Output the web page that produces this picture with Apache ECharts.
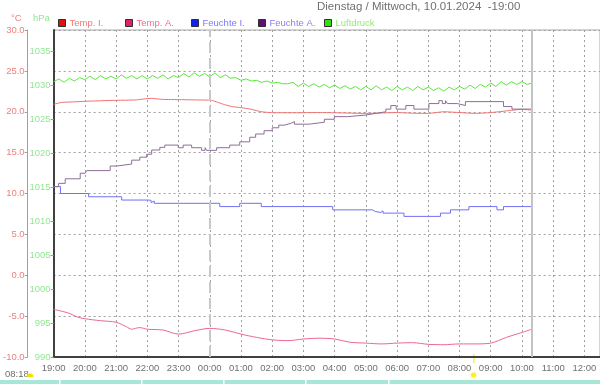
<!DOCTYPE html>
<html>
<head>
    <title>Wetterstation</title>
    <script src="https://cdn.jsdelivr.net/npm/echarts@6/dist/echarts.min.js"></script>
</head>
<body style="margin:0">
    <div id="chart" style="width: 600px; height: 384px;"></div>
    <script>
        // time = hours after 19:00
        var hourLabels = ['19:00','20:00','21:00','22:00','23:00','00:00','01:00','02:00','03:00',
                          '04:00','05:00','06:00','07:00','08:00','09:00','10:00','11:00','12:00'];
        var midnight = 5;
        var nowHour = 15.32;
        var sunHour = 13.45;

        // Temp. I. [hour, °C]
        var tempIn = [[0,20.91],[0.27,21.15],[0.59,21.2],[1.01,21.28],[1.54,21.35],[2.02,21.4],[2.6,21.44],
            [3.13,21.64],[3.45,21.52],[4.09,21.48],[4.62,21.44],[5.05,21.4],[5.26,21.15],[5.48,20.86],
            [5.74,20.62],[6.01,20.5],[6.33,20.3],[6.65,20.0],[7.07,19.88],[7.71,19.88],[8.5,19.9],
            [9,19.88],[10,19.8],[11,19.9],[11.5,19.82],[12,19.8],[12.5,20.0],[13,19.9],[13.5,19.8],
            [14,19.9],[14.5,20.1],[15,20.3],[15.32,20.2]];

        // Temp. A. [hour, °C]
        var tempOut = [[0,-4.17],[0.5,-4.65],[0.75,-5.1],[1,-5.32],[1.5,-5.56],[2,-5.75],[2.33,-6.3],
            [2.5,-6.6],[2.75,-6.4],[3,-6.6],[3.5,-6.7],[4,-7.2],[4.5,-6.8],[5,-6.5],[5.5,-6.7],[6,-7.2],
            [6.5,-7.6],[7,-7.9],[7.5,-8.0],[8,-7.8],[8.5,-7.7],[9,-7.8],[9.5,-8.2],[10,-8.3],[10.5,-8.4],
            [11,-8.3],[11.5,-8.25],[12,-8.45],[12.5,-8.5],[13,-8.4],[13.5,-8.4],[14,-8.3],[14.5,-7.6],
            [15,-7.0],[15.32,-6.6]];

        // Feuchte I. [hour, %] (step changes)
        var humIn = [[0,52.1],[0.22,50.0],[1.12,49.0],[1.58,48.6],[1.63,49.0],[2.18,48.0],[3.03,47.4],
            [3.08,47.9],[3.12,47.2],[3.18,47.7],[3.22,47.0],[5.32,46.0],[5.96,47.0],[6.65,46.0],
            [8.94,45.0],[10.21,44.5],[10.3,45.0],[10.36,44.2],[10.48,44.7],[10.55,44.0],[11.22,43.0],
            [12.39,44.0],[12.71,45.0],[13.3,46.0],[14.2,45.0],[14.41,46.0],[15.32,46.0]];

        // Feuchte A. [hour, %] (step changes)
        var humOut = [[0,52.1],[0.16,53.1],[0.37,54.5],[0.85,56.2],[1.01,55.6],[1.06,57.0],[1.81,58.4],
            [2.02,59.0],[2.5,60.2],[2.76,61.1],[2.98,62.0],[3.14,63.3],[3.4,64.1],[3.56,64.8],[3.99,64.0],
            [4.15,64.8],[4.42,64.0],[4.74,63.2],[4.85,64.0],[4.9,63.2],[5.22,64.0],[5.64,64.8],[5.96,65.8],
            [6.28,67.2],[6.47,68.2],[6.74,69.2],[7.0,70.1],[7.21,70.9],[7.39,71.5],[7.61,72.0],[7.71,71.2],
            [8.19,71.8],[8.67,72.7],[8.99,73.5],[9.42,74.0],[10.0,74.5],[10.32,75.0],[10.64,75.8],
            [10.8,76.9],[10.97,75.8],[11.28,76.9],[11.54,75.8],[12.02,77.5],[12.34,78.4],[12.45,77.5],
            [12.55,78.4],[12.61,77.5],[12.93,76.9],[13.19,78.1],[14.41,76.6],[14.68,75.8],[15.25,75.8],
            [15.32,74.0]];

        // Luftdruck hPa, every 10 minutes from 19:00
        var pressure = [
            1030.5,1030.9,1030.4,1031.0,1030.6,1031.1,
            1030.8,1031.3,1030.8,1031.4,1030.9,1031.3,
            1030.9,1031.5,1031.0,1031.4,1030.9,1031.4,
            1030.9,1031.4,1031.0,1031.5,1030.9,1031.4,
            1031.1,1031.7,1031.2,1031.8,1031.3,1031.7,
            1031.2,1031.8,1031.1,1031.5,1031.0,1031.1,
            1030.7,1030.9,1030.6,1030.7,1030.4,1030.6,
            1030.3,1030.4,1030.2,1030.2,1030.4,1029.8,
            1030.3,1029.8,1030.2,1029.7,1030.1,1029.6,
            1030.0,1029.5,1029.9,1029.4,1029.8,1029.3,
            1029.8,1029.3,1029.9,1029.3,1029.7,1029.2,
            1029.8,1029.3,1029.7,1029.2,1029.8,1029.3,
            1029.7,1029.2,1029.6,1029.1,1029.7,1029.3,
            1029.8,1029.4,1030.0,1029.5,1030.1,1029.7,
            1030.3,1029.8,1030.5,1030.0,1030.5,1030.1,
            1030.5,1030.1,1030.3];

        var font = "'Liberation Sans', sans-serif";
        var chart = echarts.init(document.querySelector("#chart"));

        function legendAt(name, left, iconColor, textColor) {
            return {
                data: [{ name: name, itemStyle: { color: iconColor, borderColor: '#303030', borderWidth: 1 } }],
                left: left, top: 18, icon: 'rect', itemWidth: 7, itemHeight: 7,
                selectedMode: false, padding: 0,
                textStyle: { color: textColor, fontSize: 9.5, fontFamily: font, padding: [0, 0, 0, -1] }
            };
        }

        var option = {
            animation: false,
            backgroundColor: '#ffffff',
            title: {
                text: 'Dienstag / Mittwoch, 10.01.2024  -19:00',
                left: 317, top: 1, padding: 0,
                textStyle: { color: '#707070', fontSize: 11.5, fontWeight: 'normal', fontFamily: font }
            },
            legend: [
                legendAt('Temp. I.', 58, '#e01010', '#f07878'),
                legendAt('Temp. A.', 125, '#e0206a', '#f06c90'),
                legendAt('Feuchte I.', 191, '#1020f0', '#7a7aff'),
                legendAt('Feuchte A.', 258, '#601070', '#8c7ef0'),
                legendAt('Luftdruck', 324, '#30e010', '#90ee70')
            ],
            grid: { left: 52, right: -2, top: 30, bottom: 27, show: true, borderColor: '#a8a8a8', borderWidth: 1 },
            xAxis: {
                type: 'value', min: 0, max: 17.5, interval: 1,
                axisLine: { onZero: false, lineStyle: { color: '#404040', width: 2 } },
                axisTick: { show: false },
                axisLabel: {
                    color: '#707070', fontSize: 9.5, fontFamily: font, margin: 6, showMaxLabel: false,
                    formatter: function (v) { return hourLabels[v] || ''; }
                },
                splitLine: { show: true, lineStyle: { color: '#a0a0a0', type: [2, 3] } }
            },
            yAxis: [
                {
                    type: 'value', min: -10, max: 30, interval: 5, position: 'left', offset: 26,
                    axisLine: { show: true, onZero: false, lineStyle: { color: '#a0a0a0' } },
                    axisTick: { show: true, length: 3, lineStyle: { color: '#a0a0a0' } },
                    axisLabel: { color: '#f08080', fontSize: 9.5, fontFamily: font, margin: 3,
                        formatter: function (v) { return v.toFixed(1); } },
                    splitLine: { show: true, lineStyle: { color: '#a0a0a0', type: [2, 3] } }
                },
                {
                    type: 'value', min: 990, max: 1038.1, interval: 5, position: 'left', offset: 0,
                    axisLine: { show: true, onZero: false, lineStyle: { color: '#404040', width: 2 } },
                    axisTick: { show: true, length: 3, lineStyle: { color: '#a0a0a0' } },
                    axisLabel: { color: '#90e890', fontSize: 9.5, fontFamily: font, margin: 3, showMaxLabel: false,
                        formatter: function (v) { return String(v); } },
                    splitLine: { show: false }
                },
                { type: 'value', min: 0, max: 100, show: false }
            ],
            series: [
                {
                    name: 'Temp. I.', type: 'line', yAxisIndex: 0, data: tempIn, symbol: 'none', smooth: 0.2,
                    lineStyle: { color: '#f07070', width: 1 }, itemStyle: { color: '#f07070' },
                    markLine: {
                        symbol: 'none', silent: true, label: { show: false },
                        data: [
                            { xAxis: midnight, lineStyle: { color: '#c8c8c8', width: 2, type: [11, 5] } },
                            { xAxis: nowHour, lineStyle: { color: '#c4c4c4', width: 2, type: 'solid' } }
                        ]
                    }
                },
                {
                    name: 'Temp. A.', type: 'line', yAxisIndex: 0, data: tempOut, symbol: 'none', smooth: 0.3,
                    lineStyle: { color: '#ec6690', width: 1 }, itemStyle: { color: '#ec6690' }
                },
                {
                    name: 'Feuchte I.', type: 'line', yAxisIndex: 2, data: humIn, symbol: 'none', step: 'end',
                    lineStyle: { color: '#7070f4', width: 1 }, itemStyle: { color: '#7070f4' }
                },
                {
                    name: 'Feuchte A.', type: 'line', yAxisIndex: 2, data: humOut, symbol: 'none', step: 'end',
                    lineStyle: { color: '#8e6e98', width: 1 }, itemStyle: { color: '#8e6e98' }
                },
                {
                    name: 'Luftdruck', type: 'line', yAxisIndex: 1, symbol: 'none',
                    data: pressure.map(function (p, i) { return [i / 6, p]; }),
                    lineStyle: { color: '#5ae83a', width: 1 }, itemStyle: { color: '#5ae83a' }
                }
            ]
        };
        chart.setOption(option);

        // sunrise marker below the axis + bottom strip
        var sx = chart.convertToPixel({ xAxisIndex: 0 }, sunHour);
        var tabs = [59, 141, 223, 305, 388];
        var graphics = [
            { type: 'text', left: 11, top: 13, style: { text: '°C', fill: '#f08080', font: '9.5px ' + font } },
            { type: 'text', left: 33, top: 13, style: { text: 'hPa', fill: '#90e890', font: '9.5px ' + font } },
            { type: 'text', left: 5, top: 369, style: { text: '08:18', fill: '#707070', font: '9.5px ' + font } },
            { type: 'sector', shape: { cx: 30, cy: 377, r: 3.5, r0: 0, startAngle: Math.PI, endAngle: 2 * Math.PI, clockwise: true },
              style: { fill: '#f0e000' } },
            { type: 'rect', shape: { x: sx - 0.5, y: 354, width: 1.5, height: 9 }, style: { fill: '#f8f040' } },
            { type: 'circle', shape: { cx: sx, cy: 375, r: 2.5 }, style: { fill: '#f8f020', shadowBlur: 4, shadowColor: '#f8f080' } },
            { type: 'rect', shape: { x: 0, y: 380, width: 600, height: 4 }, style: { fill: '#a8e6d8' } }
        ];
        tabs.forEach(function (t) {
            graphics.push({ type: 'rect', shape: { x: t, y: 380, width: 1.5, height: 4 }, style: { fill: '#ffffff' } });
        });
        chart.setOption({ graphic: graphics });
    </script>
</body>
</html>
